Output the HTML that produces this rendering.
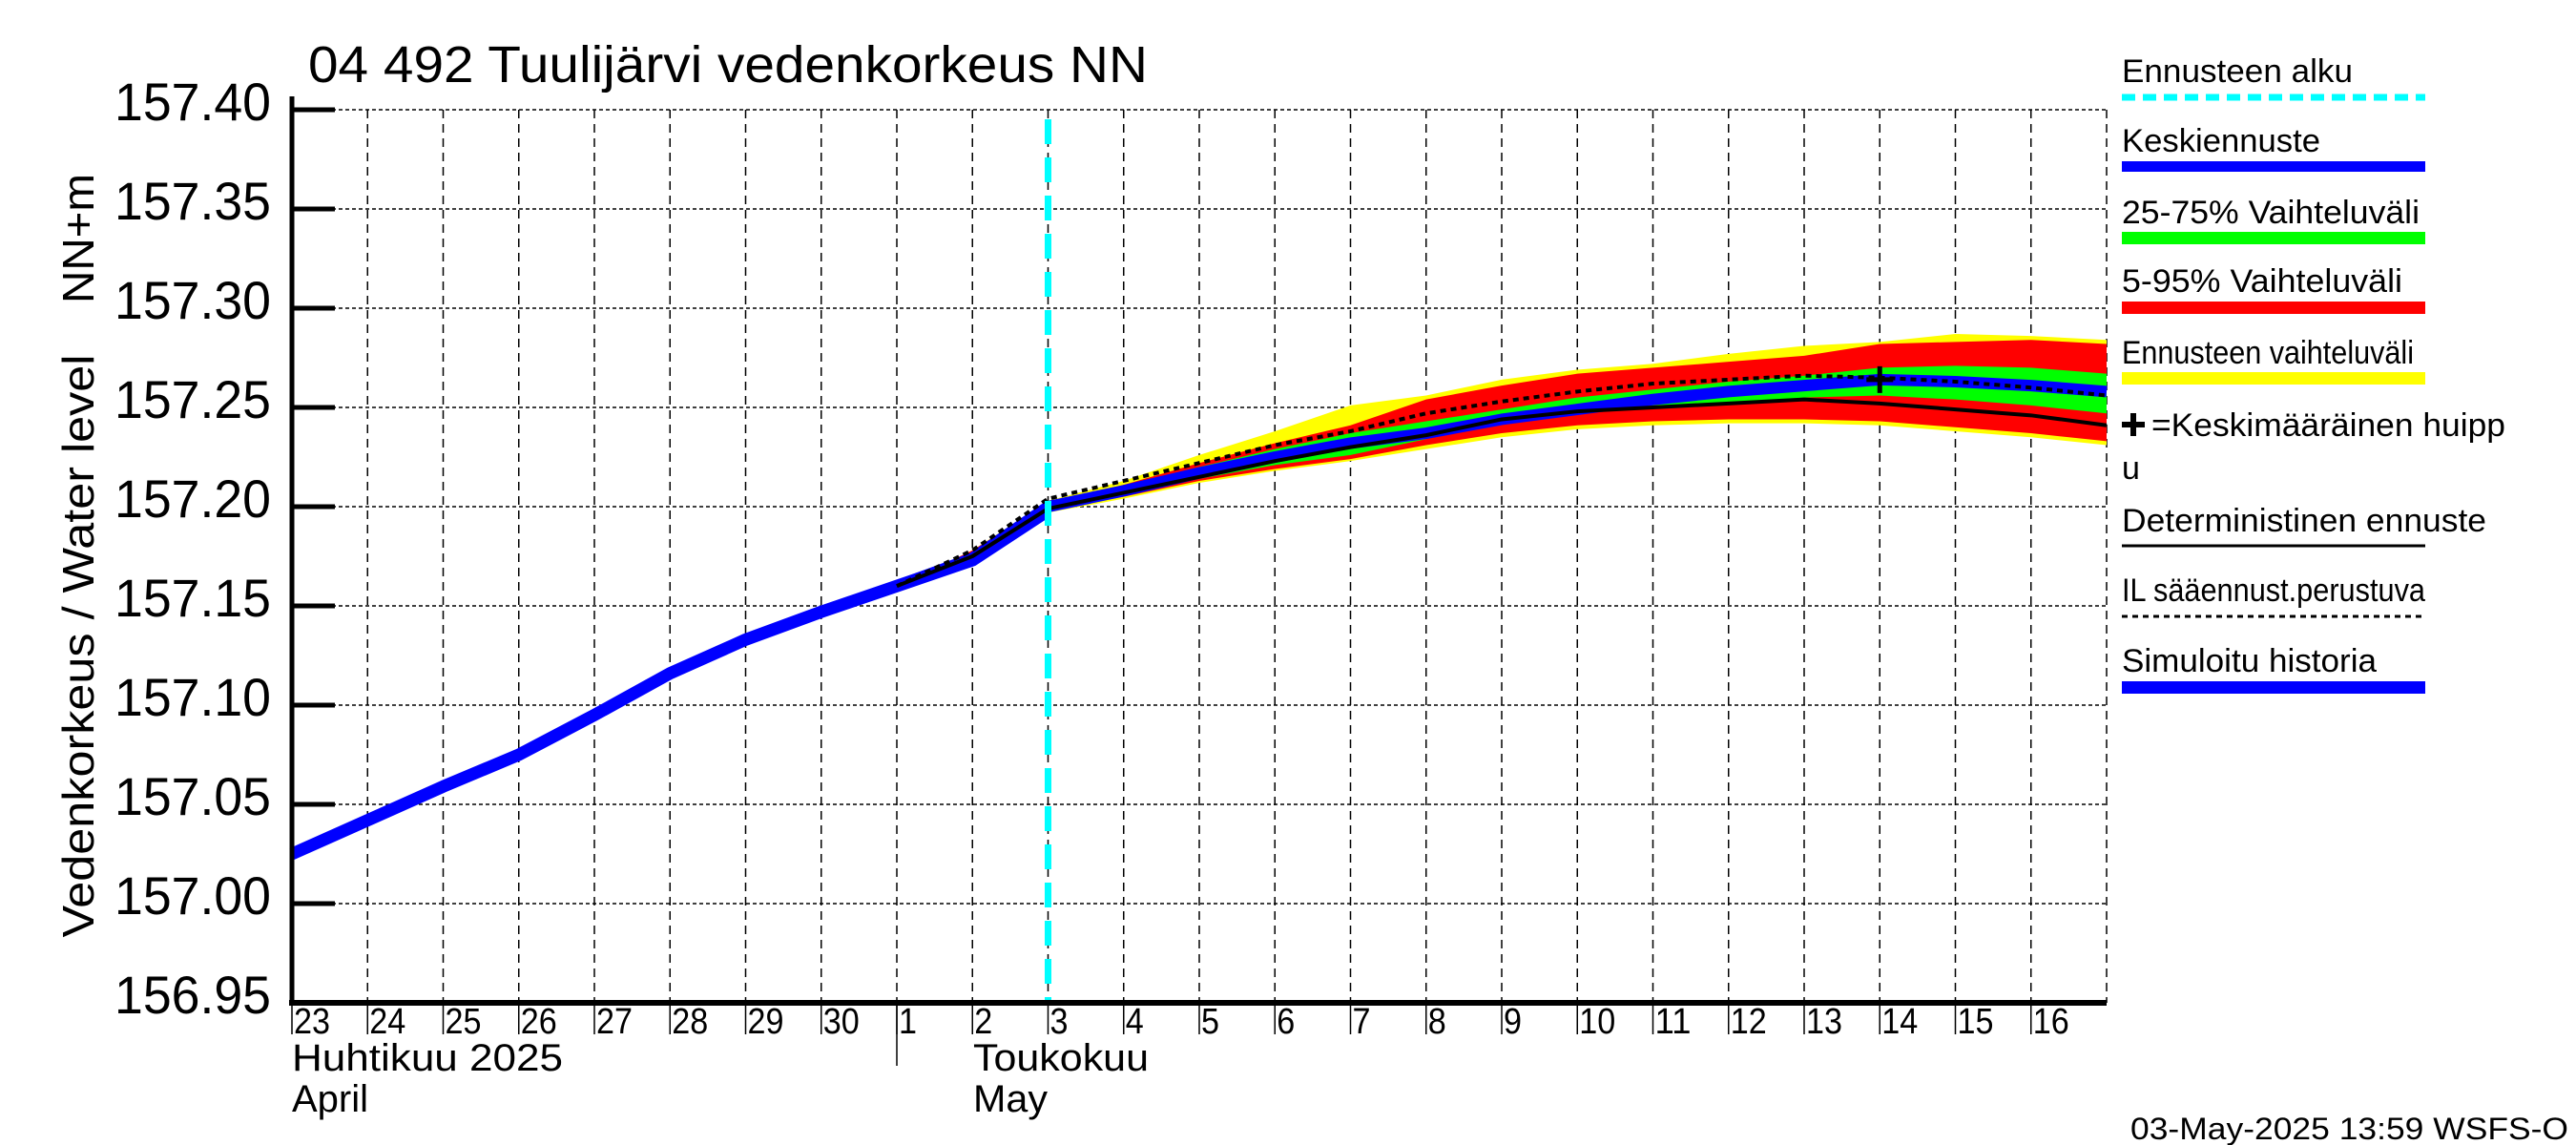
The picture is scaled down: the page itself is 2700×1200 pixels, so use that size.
<!DOCTYPE html>
<html><head><meta charset="utf-8"><style>
html,body{margin:0;padding:0;background:#fff}
svg{display:block;font-family:"Liberation Sans",sans-serif}
</style></head><body>
<svg id="chart" width="2700" height="1200" viewBox="0 0 2700 1200" xmlns="http://www.w3.org/2000/svg">
<text x="323" y="86" font-size="54" textLength="880" lengthAdjust="spacingAndGlyphs">04 492 Tuulijärvi vedenkorkeus NN</text>
<g id="grid"></g>
<g id="bands"></g>
<g id="lines"></g>
<g id="axes"></g>
<text transform="translate(98,677) rotate(-90)" text-anchor="middle" font-size="46" textLength="611" lengthAdjust="spacingAndGlyphs">Vedenkorkeus / Water level</text>
<text transform="translate(98,250) rotate(-90)" text-anchor="middle" font-size="46" textLength="136" lengthAdjust="spacingAndGlyphs">NN+m</text>
<g id="legend">
 <text x="2224" y="86" font-size="34" textLength="242" lengthAdjust="spacingAndGlyphs">Ennusteen alku</text>
 <line x1="2224" y1="102" x2="2542" y2="102" stroke="#00ffff" stroke-width="7" stroke-dasharray="14,8"/>
 <text x="2224" y="159" font-size="34" textLength="208" lengthAdjust="spacingAndGlyphs">Keskiennuste</text>
 <rect x="2224" y="169" width="318" height="11" fill="#0000ff"/>
 <text x="2224" y="234" font-size="34" textLength="312" lengthAdjust="spacingAndGlyphs">25-75% Vaihteluväli</text>
 <rect x="2224" y="243" width="318" height="13" fill="#00ff00"/>
 <text x="2224" y="306" font-size="34" textLength="294" lengthAdjust="spacingAndGlyphs">5-95% Vaihteluväli</text>
 <rect x="2224" y="316" width="318" height="13" fill="#ff0000"/>
 <text x="2224" y="381" font-size="34" textLength="306" lengthAdjust="spacingAndGlyphs">Ennusteen vaihteluväli</text>
 <rect x="2224" y="390" width="318" height="13" fill="#ffff00"/>
 <path d="M2224 445 h24 M2236 433 v24" stroke="#000" stroke-width="6"/>
 <text x="2255" y="457" font-size="34" textLength="371" lengthAdjust="spacingAndGlyphs">=Keskimääräinen huipp</text>
 <text x="2224" y="502" font-size="34">u</text>
 <text x="2224" y="557" font-size="34" textLength="382" lengthAdjust="spacingAndGlyphs">Deterministinen ennuste</text>
 <line x1="2224" y1="572" x2="2542" y2="572" stroke="#000" stroke-width="3"/>
 <text x="2224" y="630" font-size="34" textLength="318" lengthAdjust="spacingAndGlyphs">IL sääennust.perustuva</text>
 <line x1="2224" y1="646" x2="2542" y2="646" stroke="#000" stroke-width="3" stroke-dasharray="6,5"/>
 <text x="2224" y="704" font-size="34" textLength="267" lengthAdjust="spacingAndGlyphs">Simuloitu historia</text>
 <rect x="2224" y="714" width="318" height="13" fill="#0000ff"/>
</g>
<text x="2233" y="1194" font-size="32" textLength="459" lengthAdjust="spacingAndGlyphs">03-May-2025 13:59 WSFS-O</text>
</svg>
<script>
const yTicks=[156.95,157.00,157.05,157.10,157.15,157.20,157.25,157.30,157.35,157.40];
const dayLabels=["23","24","25","26","27","28","29","30","1","2","3","4","5","6","7","8","9","10","11","12","13","14","15","16"];
const histDays=[0,1,2,3,4,5,6,7,8,9,10];
const histVals=[157.025,157.042,157.059,157.075,157.095,157.116,157.133,157.147,157.160,157.173,157.198];
const fcDays=[8,9,10,11,12,13,14,15,16,17,18,19,20,21,22,23,24];
const yelTop=[157.160,157.178,157.203,157.213,157.226,157.238,157.251,157.256,157.264,157.269,157.272,157.277,157.281,157.283,157.287,157.286,157.284];
const redTop=[157.160,157.178,157.202,157.211,157.222,157.232,157.241,157.254,157.261,157.267,157.270,157.273,157.276,157.282,157.283,157.284,157.282];
const grnTop=[157.160,157.177,157.202,157.210,157.220,157.229,157.237,157.243,157.249,157.255,157.259,157.263,157.266,157.270,157.271,157.270,157.267];
const median=[157.160,157.174,157.200,157.208,157.217,157.225,157.232,157.237,157.244,157.249,157.254,157.258,157.261,157.264,157.263,157.261,157.258];
const grnBot=[157.160,157.173,157.199,157.206,157.214,157.221,157.226,157.234,157.242,157.248,157.251,157.252,157.255,157.256,157.254,157.251,157.247];
const redBot=[157.160,157.172,157.198,157.205,157.213,157.219,157.224,157.231,157.237,157.241,157.243,157.244,157.244,157.243,157.240,157.237,157.233];
const yelBot=[157.160,157.172,157.197,157.204,157.212,157.218,157.223,157.229,157.235,157.239,157.241,157.242,157.242,157.241,157.238,157.235,157.231];
const detVals=[157.160,157.175,157.199,157.207,157.215,157.223,157.230,157.236,157.244,157.248,157.250,157.252,157.254,157.252,157.249,157.246,157.241];
const ilVals=[157.160,157.178,157.204,157.213,157.222,157.231,157.238,157.247,157.253,157.258,157.262,157.264,157.266,157.265,157.263,157.260,157.256];
const forecastStartDay=[10];
const peakDay=[21], peakVal=[157.264];

const NS="http://www.w3.org/2000/svg";
const X0=306,DX=79.25,Y0=115,YMAX=157.40,PXV=104/0.05;
const xs=d=>X0+d*DX, ys=v=>Y0+(YMAX-v)*PXV;
function mk(tag,attrs,parent){const e=document.createElementNS(NS,tag);for(const k in attrs)e.setAttribute(k,attrs[k]);parent.appendChild(e);return e;}
const grid=document.getElementById('grid'),bands=document.getElementById('bands'),lines=document.getElementById('lines'),axes=document.getElementById('axes');
const xR=xs(24), yB=ys(156.95);
yTicks.forEach(v=>{ if(v>156.96){const l=mk('line',{x1:X0,x2:xR,y1:ys(v),y2:ys(v),stroke:'#000','stroke-width':1.5,'stroke-dasharray':'4,3'},grid);

}});
for(let d=1;d<=24;d++){const l=mk('line',{x1:xs(d),x2:xs(d),y1:Y0,y2:yB,stroke:'#000','stroke-width':1.5,'stroke-dasharray':'9,6'},grid);

}
function band(top,bot,color,name){let p='M'+fcDays.map((d,i)=>xs(d)+','+ys(top[i])).join('L');
p+='L'+fcDays.slice().reverse().map((d,j)=>{const i=fcDays.length-1-j;return xs(d)+','+ys(bot[i]);}).join('L')+'Z';
const e=mk('path',{d:p,fill:color},bands);

}
band(yelTop,yelBot,'#ffff00','band-forecast-range');
band(redTop,redBot,'#ff0000','band-5-95');
band(grnTop,grnBot,'#00ff00','band-25-75');
function line(days,vals,attrs,name){const e=mk('polyline',Object.assign({points:days.map((d,i)=>xs(d)+','+ys(vals[i])).join(' '),fill:'none','stroke-linejoin':'round'},attrs),lines);

}
line(fcDays,median,{stroke:'#0000ff','stroke-width':12},'median-forecast');
line(histDays,histVals,{stroke:'#0000ff','stroke-width':13},'simulated-history');
line(fcDays,detVals,{stroke:'#000','stroke-width':4},'deterministic-forecast');
line(fcDays,ilVals,{stroke:'#000','stroke-width':4,'stroke-dasharray':'6,5'},'il-forecast');
const px=xs(peakDay[0]),py=ys(peakVal[0]);
const pk=mk('path',{d:`M${px-14} ${py}h28M${px} ${py-14}v28`,stroke:'#000','stroke-width':5},lines);


const fs=mk('line',{x1:xs(forecastStartDay[0]),x2:xs(forecastStartDay[0]),y1:Y0+10,y2:yB,stroke:'#00ffff','stroke-width':7,'stroke-dasharray':'26,14'},lines);


mk('line',{x1:X0,x2:X0,y1:Y0-14,y2:yB+3,stroke:'#000','stroke-width':5},axes);
mk('line',{x1:X0-3,x2:xR,y1:yB,y2:yB,stroke:'#000','stroke-width':6},axes);
yTicks.forEach(v=>{const y=ys(v);
mk('line',{x1:X0,x2:X0+45,y1:y,y2:y,stroke:'#000','stroke-width':5},axes);
const t=mk('text',{x:284,y:y+11,'font-size':56,'text-anchor':'end',textLength:164,lengthAdjust:'spacingAndGlyphs'},axes);t.textContent=v.toFixed(2);

});
dayLabels.forEach((s,d)=>{const x=xs(d);
mk('line',{x1:x,x2:x,y1:yB,y2:yB+33,stroke:'#000','stroke-width':1.5},axes);
const t=mk('text',{x:x+2,y:1083,'font-size':38,textLength:s.length*19,lengthAdjust:'spacingAndGlyphs'},axes);t.textContent=s;

});
mk('line',{x1:xs(8),x2:xs(8),y1:yB,y2:1117,stroke:'#000','stroke-width':1.5},axes);
[["Huhtikuu  2025",xs(0),1122,284],["April",xs(0),1165,80],["Toukokuu",1020,1122,184],["May",1020,1165,78]].forEach(a=>{
const t=mk('text',{x:a[1],y:a[2],'font-size':40,textLength:a[3],lengthAdjust:'spacingAndGlyphs','xml:space':'preserve'},axes);t.textContent=a[0];

});
</script>
</body></html>
